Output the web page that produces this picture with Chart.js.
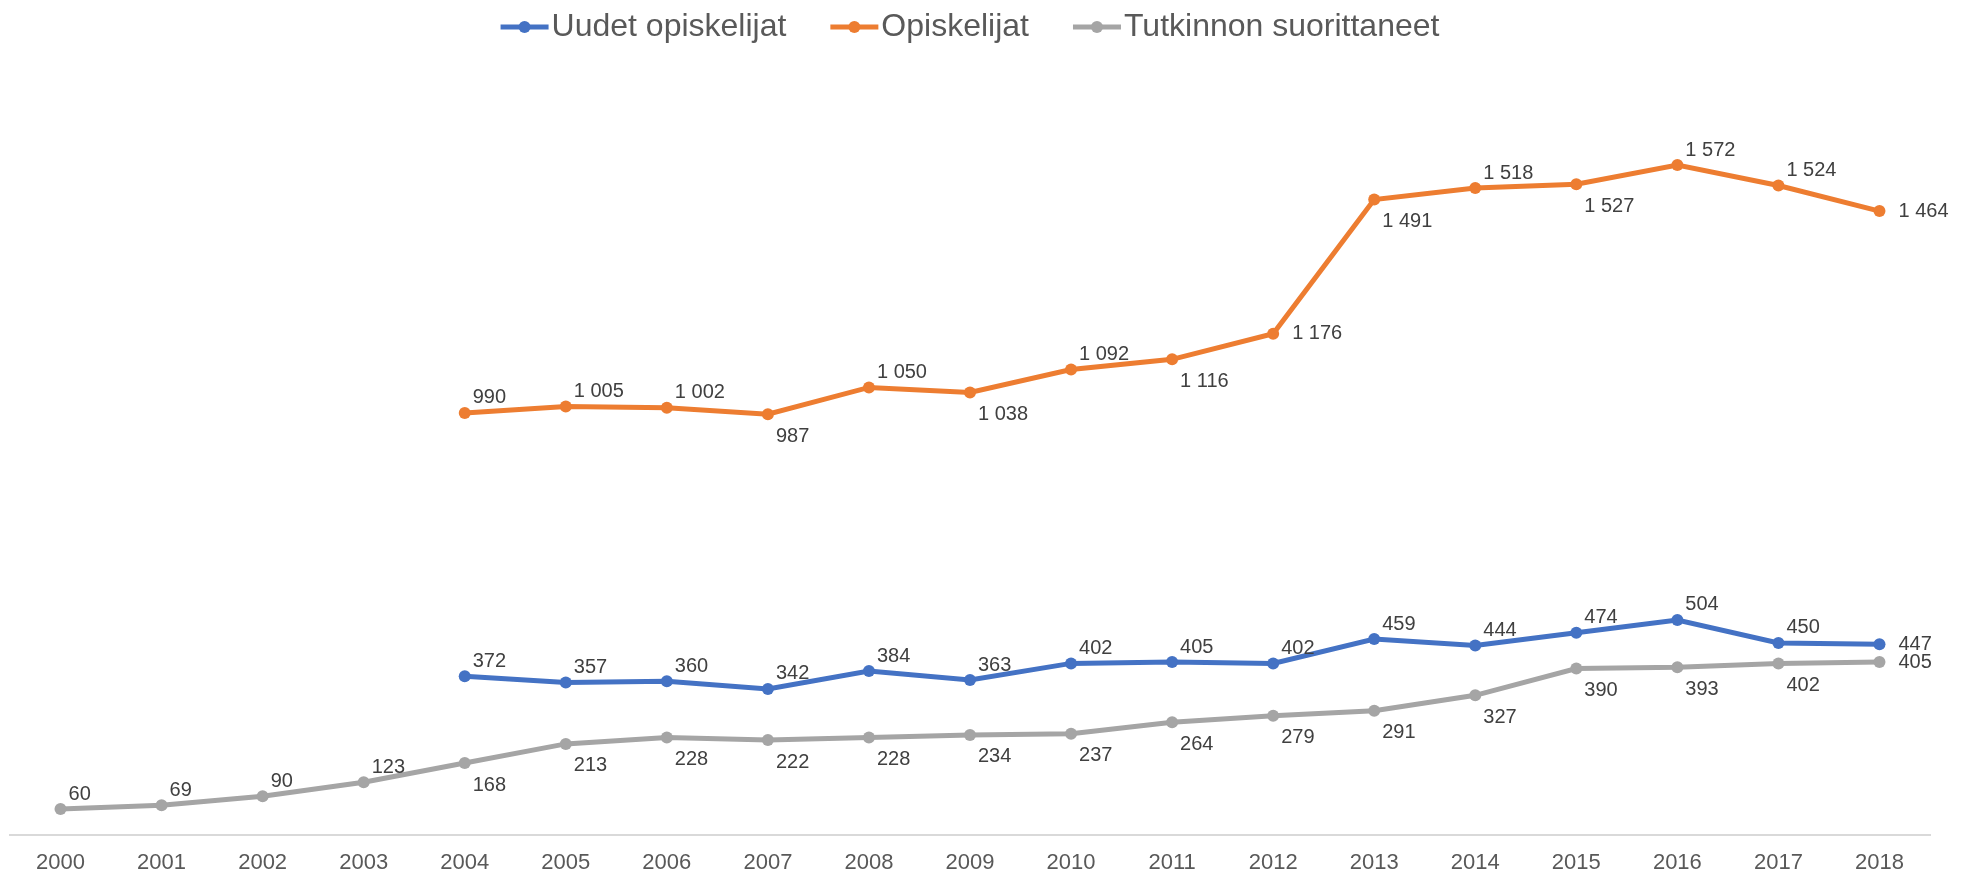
<!DOCTYPE html>
<html>
<head>
<meta charset="utf-8">
<script src="https://cdn.jsdelivr.net/npm/chart.js@4.4.0/dist/chart.umd.min.js"></script>
<style>
  html, body { margin: 0; padding: 0; background: #fff; }
</style>
</head>
<body>
<canvas id="chart" width="1968" height="877"></canvas>
<script>
const years = ['2000', '2001', '2002', '2003', '2004', '2005', '2006', '2007', '2008', '2009',
  '2010', '2011', '2012', '2013', '2014', '2015', '2016', '2017', '2018'];
const uudet = [null, null, null, null, 372, 357, 360, 342, 384, 363, 402, 405, 402, 459, 444, 474, 504, 450, 447];
const opiskelijat = [null, null, null, null, 990, 1005, 1002, 987, 1050, 1038, 1092, 1116, 1176, 1491, 1518, 1527, 1572, 1524, 1464];
const tutkinnon = [60, 69, 90, 123, 168, 213, 228, 222, 228, 234, 237, 264, 279, 291, 327, 390, 393, 402, 405];

// where each data label sits: a = above, b = below, r = right
const uudetPos = 'aaaaaaaaaaaaaaaaaar';
const opiskelijatPos = '....aaabababrbabaar';
const tutkinnonPos = 'aaaabbbbbbbbbbbbbbr';

const colors = ['#4472C4', '#ED7D31', '#A5A5A5'];

function fmt(v) {
  return String(v).replace(/\B(?=(\d{3})+(?!\d))/g, ' ');
}

function series(label, data, color, pos) {
  return {
    label: label,
    data: data,
    labelPos: pos,
    borderColor: color,
    backgroundColor: color,
    borderWidth: 5,
    pointRadius: 6,
    pointHoverRadius: 6,
    pointBorderWidth: 0,
    pointBackgroundColor: color,
    tension: 0,
    spanGaps: false
  };
}

const valueLabels = {
  id: 'valueLabels',
  afterDatasetsDraw(chart) {
    const ctx = chart.ctx;
    ctx.save();
    ctx.font = '20px "Liberation Sans", Arial, sans-serif';
    ctx.fillStyle = '#404040';
    ctx.textAlign = 'left';
    ctx.textBaseline = 'middle';
    chart.data.datasets.forEach((ds, i) => {
      const meta = chart.getDatasetMeta(i);
      meta.data.forEach((pt, j) => {
        const v = ds.data[j];
        if (v == null) return;
        const p = ds.labelPos[j];
        let x = pt.x, y = pt.y;
        if (p === 'a') { x += 8; y -= 15; }
        else if (p === 'b') { x += 8; y += 22; }
        else { x += 19; }
        ctx.fillText(fmt(v), x, y);
      });
    });
    ctx.restore();
  }
};

const topLegend = {
  id: 'topLegend',
  afterDraw(chart) {
    const ctx = chart.ctx;
    const area = chart.chartArea;
    ctx.save();
    ctx.font = '32px "Liberation Sans", Arial, sans-serif';
    ctx.textBaseline = 'middle';
    ctx.textAlign = 'left';
    const markW = 48, gap = 3, between = 44;
    const items = chart.data.datasets.map(ds => ({ ds: ds, w: ctx.measureText(ds.label).width }));
    let total = 0;
    items.forEach((it, k) => { total += markW + gap + it.w + (k ? between : 0); });
    let x = (area.left + area.right) / 2 - total / 2;
    const y = 27;
    items.forEach(it => {
      ctx.strokeStyle = it.ds.borderColor;
      ctx.lineWidth = 5;
      ctx.beginPath();
      ctx.moveTo(x, y);
      ctx.lineTo(x + markW, y);
      ctx.stroke();
      ctx.fillStyle = it.ds.borderColor;
      ctx.beginPath();
      ctx.arc(x + markW / 2, y, 6, 0, Math.PI * 2);
      ctx.fill();
      ctx.fillStyle = '#595959';
      ctx.fillText(it.ds.label, x + markW + gap, y);
      x += markW + gap + it.w + between;
    });
    ctx.restore();
  }
};

new Chart(document.getElementById('chart'), {
  type: 'line',
  data: {
    labels: years,
    datasets: [
      series('Uudet opiskelijat', uudet, colors[0], uudetPos),
      series('Opiskelijat', opiskelijat, colors[1], opiskelijatPos),
      series('Tutkinnon suorittaneet', tutkinnon, colors[2], tutkinnonPos)
    ]
  },
  options: {
    responsive: false,
    animation: false,
    layout: { padding: { top: 68, left: 10, right: 38, bottom: -14 } },
    plugins: {
      legend: { display: false },
      tooltip: { enabled: false }
    },
    scales: {
      x: {
        offset: true,
        grid: { display: false, drawTicks: false },
        border: { display: true, color: '#D9D9D9', width: 2 },
        ticks: {
          padding: 15,
          color: '#595959',
          font: { family: '"Liberation Sans", Arial, sans-serif', size: 22 },
          maxRotation: 0,
          autoSkip: false
        }
      },
      y: {
        display: false,
        min: 0,
        max: 1800
      }
    }
  },
  plugins: [valueLabels, topLegend]
});
</script>
</body>
</html>
